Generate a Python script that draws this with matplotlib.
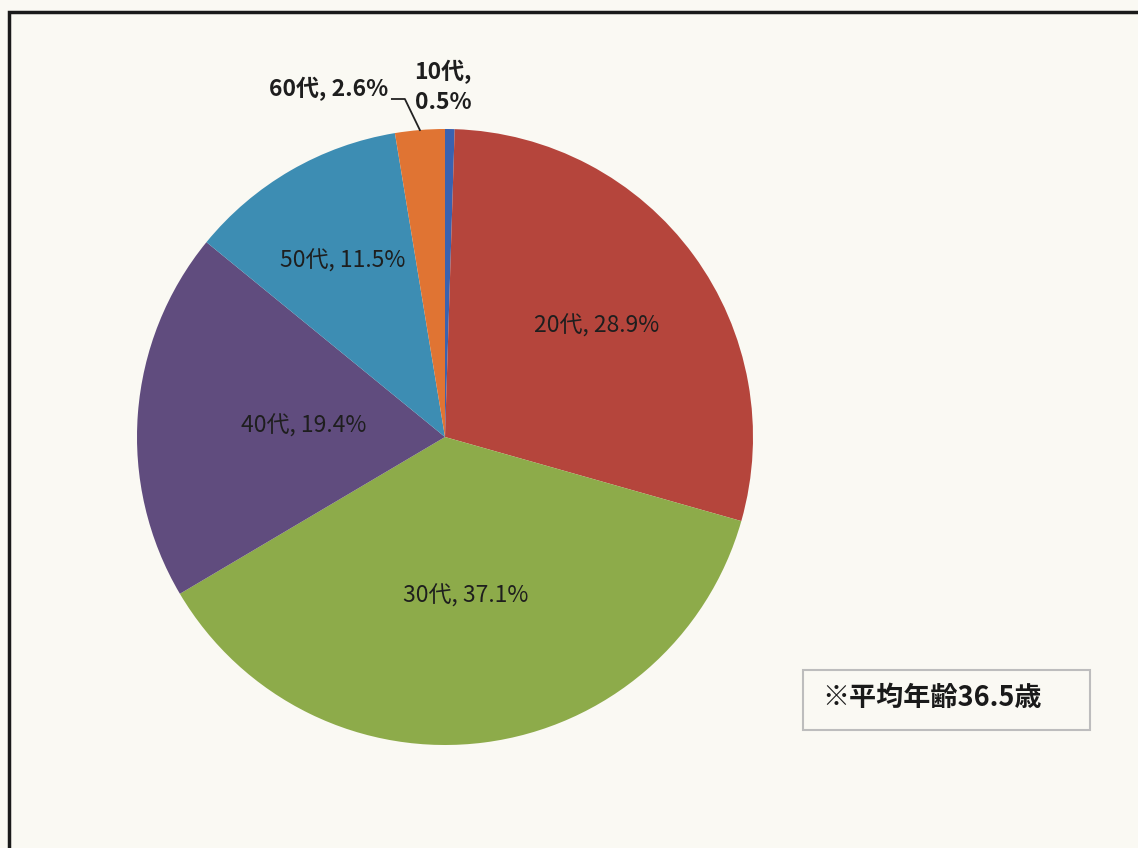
import numpy as np
import matplotlib
matplotlib.use("Agg")
import matplotlib.pyplot as plt
from matplotlib.patches import Rectangle

plt.rcParams["font.family"] = ["Noto Sans CJK JP", "DejaVu Sans"]

# Data
age_groups = ["10代", "20代", "30代", "40代", "50代", "60代"]
shares = [0.5, 28.9, 37.1, 19.4, 11.5, 2.6]
note_text = "※平均年齢36.5歳"

# Styles
colors = ["#3A62B0", "#B5453C", "#8DAB4A", "#604C7E", "#3D8DB3", "#E07433"]
inside_r = [None, 0.61, 0.52, 0.46, 0.66, None]
bg = "#FAF9F3"

W, H = 1138, 848
fig = plt.figure(figsize=(W / 100, H / 100), dpi=100, facecolor=bg)
ax = fig.add_axes([0, 0, 1, 1])
ax.set_facecolor(bg)

cx, cy, R = 445, H - 437, 308
wedges, _ = ax.pie(shares, colors=colors, startangle=90, counterclock=False,
                   center=(cx, cy), radius=R, frame=True,
                   wedgeprops=dict(linewidth=0))
ax.set_xlim(0, W)
ax.set_ylim(0, H)
ax.set_aspect("auto")
ax.axis("off")

# labels inside wedges
for w, name, val, rf in zip(wedges, age_groups, shares, inside_r):
    if rf is None:
        continue
    a = np.deg2rad((w.theta1 + w.theta2) / 2)
    ax.text(cx + rf * R * np.cos(a), cy + rf * R * np.sin(a), f"{name}, {val}%",
            ha="center", va="center", fontsize=16.5, color="#1E1E1E")

# outside labels for small slices
ax.text(cx - 2, cy + R + 42, f"{age_groups[0]},\n{shares[0]}%", ha="center", va="center",
        fontsize=16.5, fontweight="bold", color="#1E1E1E", linespacing=1.35)

w60 = wedges[5]
a60 = np.deg2rad((w60.theta1 + w60.theta2) / 2)
ex, ey = cx + R * np.cos(a60), cy + R * np.sin(a60)
ax.text(ex - 32, cy + R + 40, f"{age_groups[5]}, {shares[5]}%", ha="right", va="center",
        fontsize=16.5, fontweight="bold", color="#1E1E1E")
ax.plot([ex - 28, ex - 15, ex], [cy + R + 30, cy + R + 30, ey], color="#222222", lw=1.3)

# note box
ax.add_patch(Rectangle((803, H - 730), 287, 60, facecolor=bg, edgecolor="#BDBDBD", lw=1.5))
ax.text(822, H - 698, note_text, ha="left", va="center", fontsize=19.5,
        fontweight="bold", color="#1A1A1A")

# outer frame (extends off the right and bottom edges)
ax.plot([9, 9, W + 5], [-5, H - 12, H - 12], color="#1A1A1A", lw=2.5,
        solid_joinstyle="miter")

fig.savefig("out.png", dpi=100, facecolor=bg)
